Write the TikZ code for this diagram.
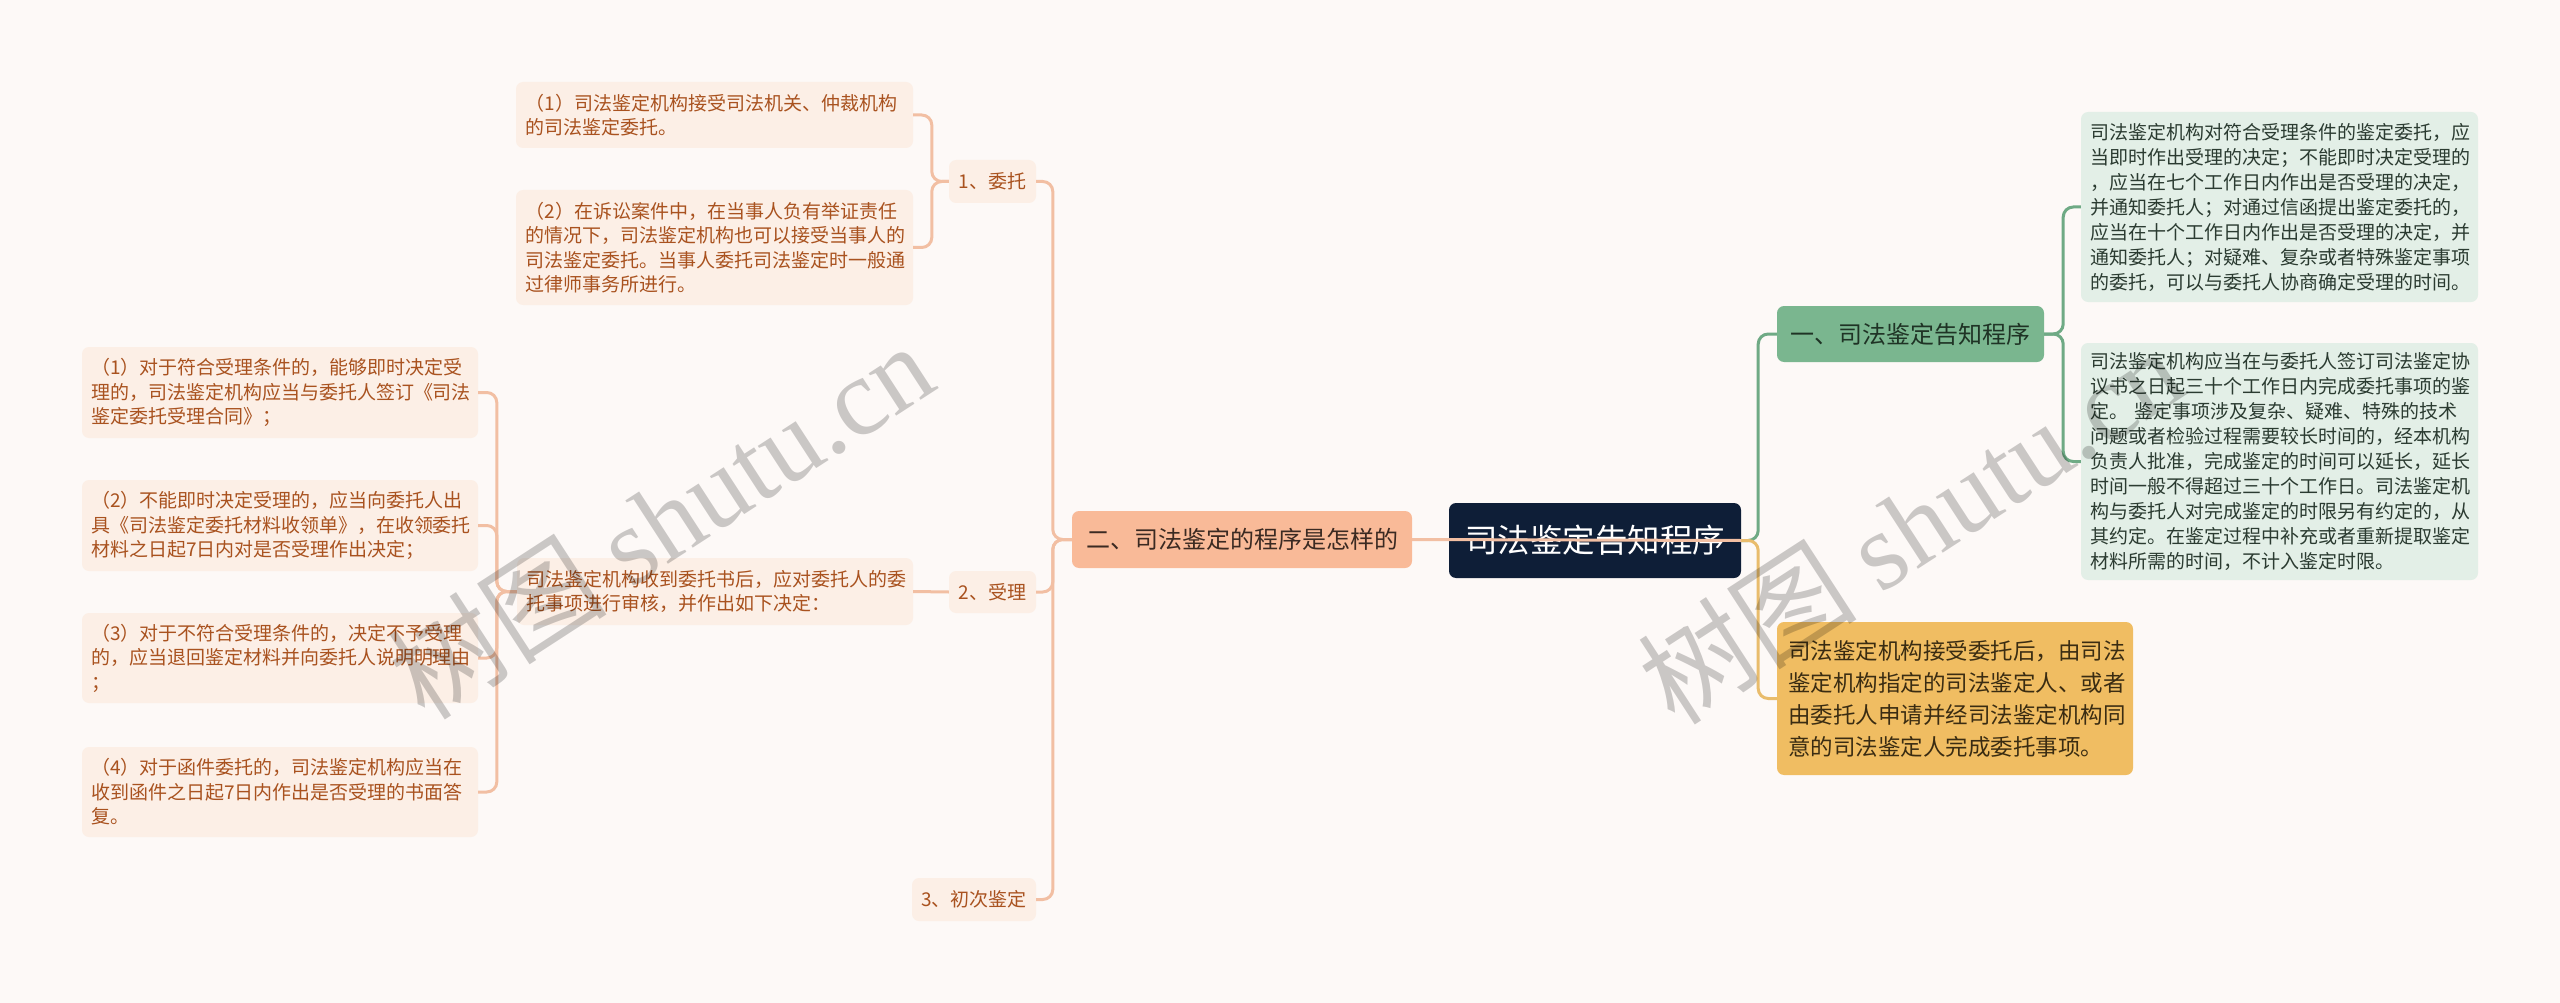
\documentclass[tikz,border=0pt]{standalone}
\usepackage{fontspec}
\setmainfont{Noto Sans CJK SC}
\newfontfamily\wmlatin{Liberation Serif}
\definecolor{bgc}{HTML}{FDF9F7}
\definecolor{leafFill}{HTML}{FCEFE6}
\definecolor{leafText}{HTML}{A9521F}
\definecolor{peach}{HTML}{F2BFA3}
\definecolor{lTwoFill}{HTML}{F9BA98}
\definecolor{lTwoText}{HTML}{3B2A22}
\definecolor{rootFill}{HTML}{0E1E37}
\definecolor{gNodeFill}{HTML}{7AB68F}
\definecolor{gNodeText}{HTML}{1F3325}
\definecolor{gLeafFill}{HTML}{E3EFE7}
\definecolor{gLeafText}{HTML}{2B3B31}
\definecolor{gLine}{HTML}{6FAA85}
\definecolor{goldFill}{HTML}{F0BD62}
\definecolor{goldText}{HTML}{3A2C12}
\definecolor{goldLine}{HTML}{E9BC6C}
\tikzset{
  boxbase/.style={rounded corners=7pt, inner sep=0pt, align=left},
  leafL/.style={boxbase, fill=leafFill, text=leafText, font=\fontsize{19pt}{24.5pt}\selectfont},
  subL/.style={boxbase, fill=leafFill, text=leafText, align=center, font=\fontsize{19pt}{24pt}\selectfont},
  leafG/.style={boxbase, fill=gLeafFill, text=gLeafText, font=\fontsize{19pt}{25pt}\selectfont},
  rootnode/.style={boxbase, fill=rootFill, text=white, align=center, font=\fontsize{32.5pt}{36pt}\selectfont},
  ltwo/.style={boxbase, fill=lTwoFill, text=lTwoText, align=center, font=\fontsize{24pt}{28pt}\selectfont},
  gnode/.style={boxbase, fill=gNodeFill, text=gNodeText, align=center, font=\fontsize{24pt}{28pt}\selectfont},
  goldnode/.style={boxbase, fill=goldFill, text=goldText, font=\fontsize{22.5pt}{32pt}\selectfont},
  pline/.style={draw=peach, line width=3pt, rounded corners=10pt},
  gline/.style={draw=gLine, line width=3pt, rounded corners=10pt},
  yline/.style={draw=goldLine, line width=3pt, rounded corners=10pt},
  wm/.style={text=black, text opacity=0.2, font=\fontsize{110pt}{110pt}\selectfont, inner sep=0pt}
}
\begin{document}
\begin{tikzpicture}[x=1pt, y=-1pt]
\useasboundingbox (0,0) rectangle (2560,1003);
\fill[bgc] (0,0) rectangle (2560,1003);

% nodes
\node[rootnode, minimum width=292pt, minimum height=75pt] (root) at (1595,540.5) {司法鉴定告知程序};
\node[ltwo, minimum width=340pt, minimum height=57pt] (ltwo) at (1242,539.5) {二、司法鉴定的程序是怎样的};

\node[subL, minimum width=87pt, minimum height=43pt] (wt) at (992.5,181.5) {1、委托};
\node[subL, minimum width=87pt, minimum height=42pt] (sl) at (992.5,592) {2、受理};
\node[subL, minimum width=124pt, minimum height=43pt] (cc) at (974,899.5) {3、初次鉴定};

\node[leafL, minimum width=397pt, minimum height=66pt, text width=378pt] (la) at (714.5,115) {（1）司法鉴定机构接受司法机关、仲裁机构\\的司法鉴定委托。};
\node[leafL, minimum width=397pt, minimum height=115pt, text width=378pt] (lb) at (714.5,247.5) {（2）在诉讼案件中，在当事人负有举证责任\\的情况下，司法鉴定机构也可以接受当事人的\\司法鉴定委托。当事人委托司法鉴定时一般通\\过律师事务所进行。};
\node[leafL, minimum width=396pt, minimum height=67pt, text width=378pt] (mid) at (715,591.5) {司法鉴定机构收到委托书后，应对委托人的委\\托事项进行审核，并作出如下决定：};

\node[leafL, minimum width=396pt, minimum height=91pt, text width=378pt] (qa) at (280,392.5) {（1）对于符合受理条件的，能够即时决定受\\理的，司法鉴定机构应当与委托人签订《司法\\鉴定委托受理合同》；};
\node[leafL, minimum width=396pt, minimum height=91pt, text width=378pt] (qb) at (280,525.5) {（2）不能即时决定受理的，应当向委托人出\\具《司法鉴定委托材料收领单》，在收领委托\\材料之日起7日内对是否受理作出决定；};
\node[leafL, minimum width=396pt, minimum height=90pt, text width=378pt] (qc) at (280,658) {（3）对于不符合受理条件的，决定不予受理\\的，应当退回鉴定材料并向委托人说明明理由\\；};
\node[leafL, minimum width=396pt, minimum height=90pt, text width=378pt] (qd) at (280,792) {（4）对于函件委托的，司法鉴定机构应当在\\收到函件之日起7日内作出是否受理的书面答\\复。};

\node[gnode, minimum width=267pt, minimum height=56pt] (gn) at (1910.5,334) {一、司法鉴定告知程序};
\node[leafG, minimum width=397pt, minimum height=190pt, text width=379pt] (ga) at (2279.5,207) {司法鉴定机构对符合受理条件的鉴定委托，应\\当即时作出受理的决定；不能即时决定受理的\\，应当在七个工作日内作出是否受理的决定，\\并通知委托人；对通过信函提出鉴定委托的，\\应当在十个工作日内作出是否受理的决定，并\\通知委托人；对疑难、复杂或者特殊鉴定事项\\的委托，可以与委托人协商确定受理的时间。};
\node[leafG, minimum width=397pt, minimum height=237pt, text width=379pt] (gb) at (2279.5,461.5) {司法鉴定机构应当在与委托人签订司法鉴定协\\议书之日起三十个工作日内完成委托事项的鉴\\定。 鉴定事项涉及复杂、疑难、特殊的技术\\问题或者检验过程需要较长时间的，经本机构\\负责人批准，完成鉴定的时间可以延长，延长\\时间一般不得超过三十个工作日。司法鉴定机\\构与委托人对完成鉴定的时限另有约定的，从\\其约定。在鉴定过程中补充或者重新提取鉴定\\材料所需的时间，不计入鉴定时限。};
\node[goldnode, minimum width=356pt, minimum height=153pt, text width=334pt] (gd) at (1955,698.5) {司法鉴定机构接受委托后，由司法\\鉴定机构指定的司法鉴定人、或者\\由委托人申请并经司法鉴定机构同\\意的司法鉴定人完成委托事项。};

% connectors left
\draw[pline] (ltwo.west) -- ++(-19,0) |- (wt.east);
\draw[pline] (ltwo.west) -- ++(-19,0) |- (sl.east);
\draw[pline] (ltwo.west) -- ++(-19,0) |- (cc.east);
\draw[pline] (wt.west) -- ++(-17,0) |- (la.east);
\draw[pline] (wt.west) -- ++(-17,0) |- (lb.east);
\draw[pline] (sl.west) -- (mid.east);
\draw[pline] (mid.west) -- ++(-20,0) |- (qa.east);
\draw[pline] (mid.west) -- ++(-20,0) |- (qb.east);
\draw[pline] (mid.west) -- ++(-20,0) |- (qc.east);
\draw[pline] (mid.west) -- ++(-20,0) |- (qd.east);
% connectors right
\draw[gline] (root.east) -- ++(17,0) |- (gn.west);
\draw[yline] (root.east) -- ++(17,0) |- (gd.west);
\draw[gline] (gn.east) -- ++(19,0) |- (ga.west);
\draw[gline] (gn.east) -- ++(19,0) |- (gb.west);
% line over root
\draw[draw=peach, line width=3pt] (ltwo.east) -- (root.east);

% watermarks
\node[wm, rotate=33] (wma) at (660,520) {树图 {\wmlatin shutu.cn}};
\node[wm, rotate=33] (wmb) at (1910,525) {树图 {\wmlatin shutu.cn}};
\end{tikzpicture}
\end{document}
